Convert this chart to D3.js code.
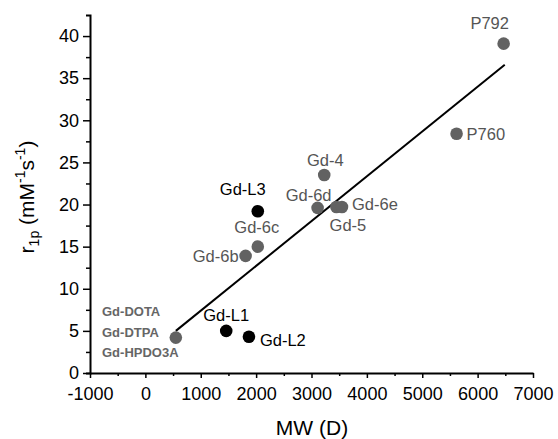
<!DOCTYPE html>
<html>
<head>
<meta charset="utf-8">
<script src="https://cdn.jsdelivr.net/npm/d3@7"></script>
<style>
  body { margin: 0; background: #fff; }
  text { font-family: "Liberation Sans", Arial, sans-serif; }
</style>
</head>
<body>
<div id="chart"></div>
<script>
// data
var names = ['P792', 'P760', 'Gd-4', 'Gd-6d', 'Gd-5', 'Gd-6e', 'Gd-6c', 'Gd-6b', 'Gd-DOTA', 'Gd-L3', 'Gd-L1', 'Gd-L2'];
var mw    = [6470, 5620, 3230, 3110, 3450, 3550, 2030, 1810, 550, 2030, 1460, 1870];
var r1p   = [39.1, 28.4, 23.5, 19.6, 19.7, 19.7, 15.0, 13.9, 4.2, 19.2, 5.0, 4.3];
var group = ['ref', 'ref', 'ref', 'ref', 'ref', 'ref', 'ref', 'ref', 'ref', 'new', 'new', 'new'];
var fitX = [550, 6490];
var fitY = [5.0, 36.6];
var smallLabels = ['Gd-DOTA', 'Gd-DTPA', 'Gd-HPDO3A'];
var xTicks = [-1000, 0, 1000, 2000, 3000, 4000, 5000, 6000, 7000];
var yTicks = [0, 5, 10, 15, 20, 25, 30, 35, 40];

var width = 558, height = 439;

var svg = d3.select('#chart').append('svg')
  .attr('width', width)
  .attr('height', height);

var x = d3.scaleLinear().domain([-1000, 7000]).range([90, 533]);
var y = d3.scaleLinear().domain([0, 42.5]).range([373, 15]);

// minor ticks
var xMinor = d3.range(-500, 7000, 1000);
var yMinor = d3.range(2.5, 42.5, 5);

svg.append('g')
  .attr('transform', 'translate(0,373)')
  .call(d3.axisBottom(x).tickValues(xMinor).tickSize(3).tickFormat(''))
  .call(g => g.select('.domain').remove())
  .selectAll('line').attr('stroke-width', 1.5);

svg.append('g')
  .attr('transform', 'translate(90,0)')
  .call(d3.axisLeft(y).tickValues(yMinor).tickSize(4).tickFormat(''))
  .call(g => g.select('.domain').remove())
  .selectAll('line').attr('stroke-width', 1.5);

var xAxis = svg.append('g')
  .attr('transform', 'translate(0,373)')
  .call(d3.axisBottom(x).tickValues(xTicks).tickSize(5).tickSizeOuter(0)
    .tickPadding(10).tickFormat(d => String(d)));
xAxis.select('.domain').attr('stroke-width', 2);
xAxis.selectAll('line').attr('stroke-width', 1.5);
xAxis.selectAll('text').attr('font-size', 18).attr('fill', '#000').attr('dy', 0)
  .style('font-family', '"Liberation Sans", Arial, sans-serif');

var yAxis = svg.append('g')
  .attr('transform', 'translate(90,0)')
  .call(d3.axisLeft(y).tickValues(yTicks).tickSize(7).tickSizeOuter(4).tickPadding(4));
yAxis.select('.domain').attr('stroke-width', 2);
yAxis.selectAll('line').attr('stroke-width', 1.5);
yAxis.selectAll('text').attr('font-size', 18).attr('fill', '#000')
  .style('font-family', '"Liberation Sans", Arial, sans-serif');

// baseline of x tick labels
xAxis.selectAll('.tick text').attr('y', 27);

// axis titles
svg.append('text')
  .attr('x', 312).attr('y', 435)
  .attr('text-anchor', 'middle')
  .attr('font-size', 21)
  .text('MW (D)');

var yt = svg.append('text')
  .attr('transform', 'translate(34,197) rotate(-90)')
  .attr('text-anchor', 'middle')
  .attr('font-size', 21);
yt.append('tspan').text('r');
yt.append('tspan').attr('font-size', 14).attr('dy', 5).text('1p');
yt.append('tspan').attr('dy', -5).text(' (mM');
yt.append('tspan').attr('font-size', 14).attr('dy', -9).text('-1');
yt.append('tspan').attr('dy', 9).text('s');
yt.append('tspan').attr('font-size', 14).attr('dy', -9).text('-1');
yt.append('tspan').attr('dy', 9).text(')');

// fit line
svg.append('line')
  .attr('x1', x(fitX[0])).attr('y1', y(fitY[0]))
  .attr('x2', x(fitX[1])).attr('y2', y(fitY[1]))
  .attr('stroke', '#000')
  .attr('stroke-width', 2);

var pts = names.map((n, i) => ({ name: n, mw: mw[i], r: r1p[i], group: group[i] }));

svg.selectAll('circle.pt')
  .data(pts)
  .enter().append('circle')
  .attr('class', 'pt')
  .attr('cx', d => x(d.mw))
  .attr('cy', d => y(d.r))
  .attr('r', 6.3)
  .attr('fill', d => d.group == 'ref' ? '#626262' : '#000');

// label placement (dx, dy from the point, anchor)
var labelPos = {
  'P792':  [-14, -15, 'middle'],
  'P760':  [10, 6, 'start'],
  'Gd-4':  [1, -9, 'middle'],
  'Gd-6d': [-9, -7, 'middle'],
  'Gd-5':  [11.5, 24, 'middle'],
  'Gd-6e': [10, 3, 'start'],
  'Gd-6c': [-1, -14, 'middle'],
  'Gd-6b': [-7, 6, 'end'],
  'Gd-L3': [-15, -16, 'middle'],
  'Gd-L1': [0, -10, 'middle'],
  'Gd-L2': [11, 9, 'start']
};

svg.selectAll('text.lbl')
  .data(pts.filter(d => labelPos[d.name]))
  .enter().append('text')
  .attr('class', 'lbl')
  .attr('x', d => x(d.mw) + labelPos[d.name][0])
  .attr('y', d => y(d.r) + labelPos[d.name][1])
  .attr('text-anchor', d => labelPos[d.name][2])
  .attr('font-size', 16.5)
  .attr('fill', d => d.group == 'ref' ? '#555' : '#000')
  .text(d => d.name);

// the three small clinical agents sit on one point
svg.selectAll('text.small')
  .data(smallLabels)
  .enter().append('text')
  .attr('class', 'small')
  .attr('x', 102)
  .attr('y', (d, i) => 316 + i * 20.5)
  .attr('font-size', 13)
  .attr('font-weight', 'bold')
  .attr('fill', '#666')
  .text(d => d);
</script>
</body>
</html>
